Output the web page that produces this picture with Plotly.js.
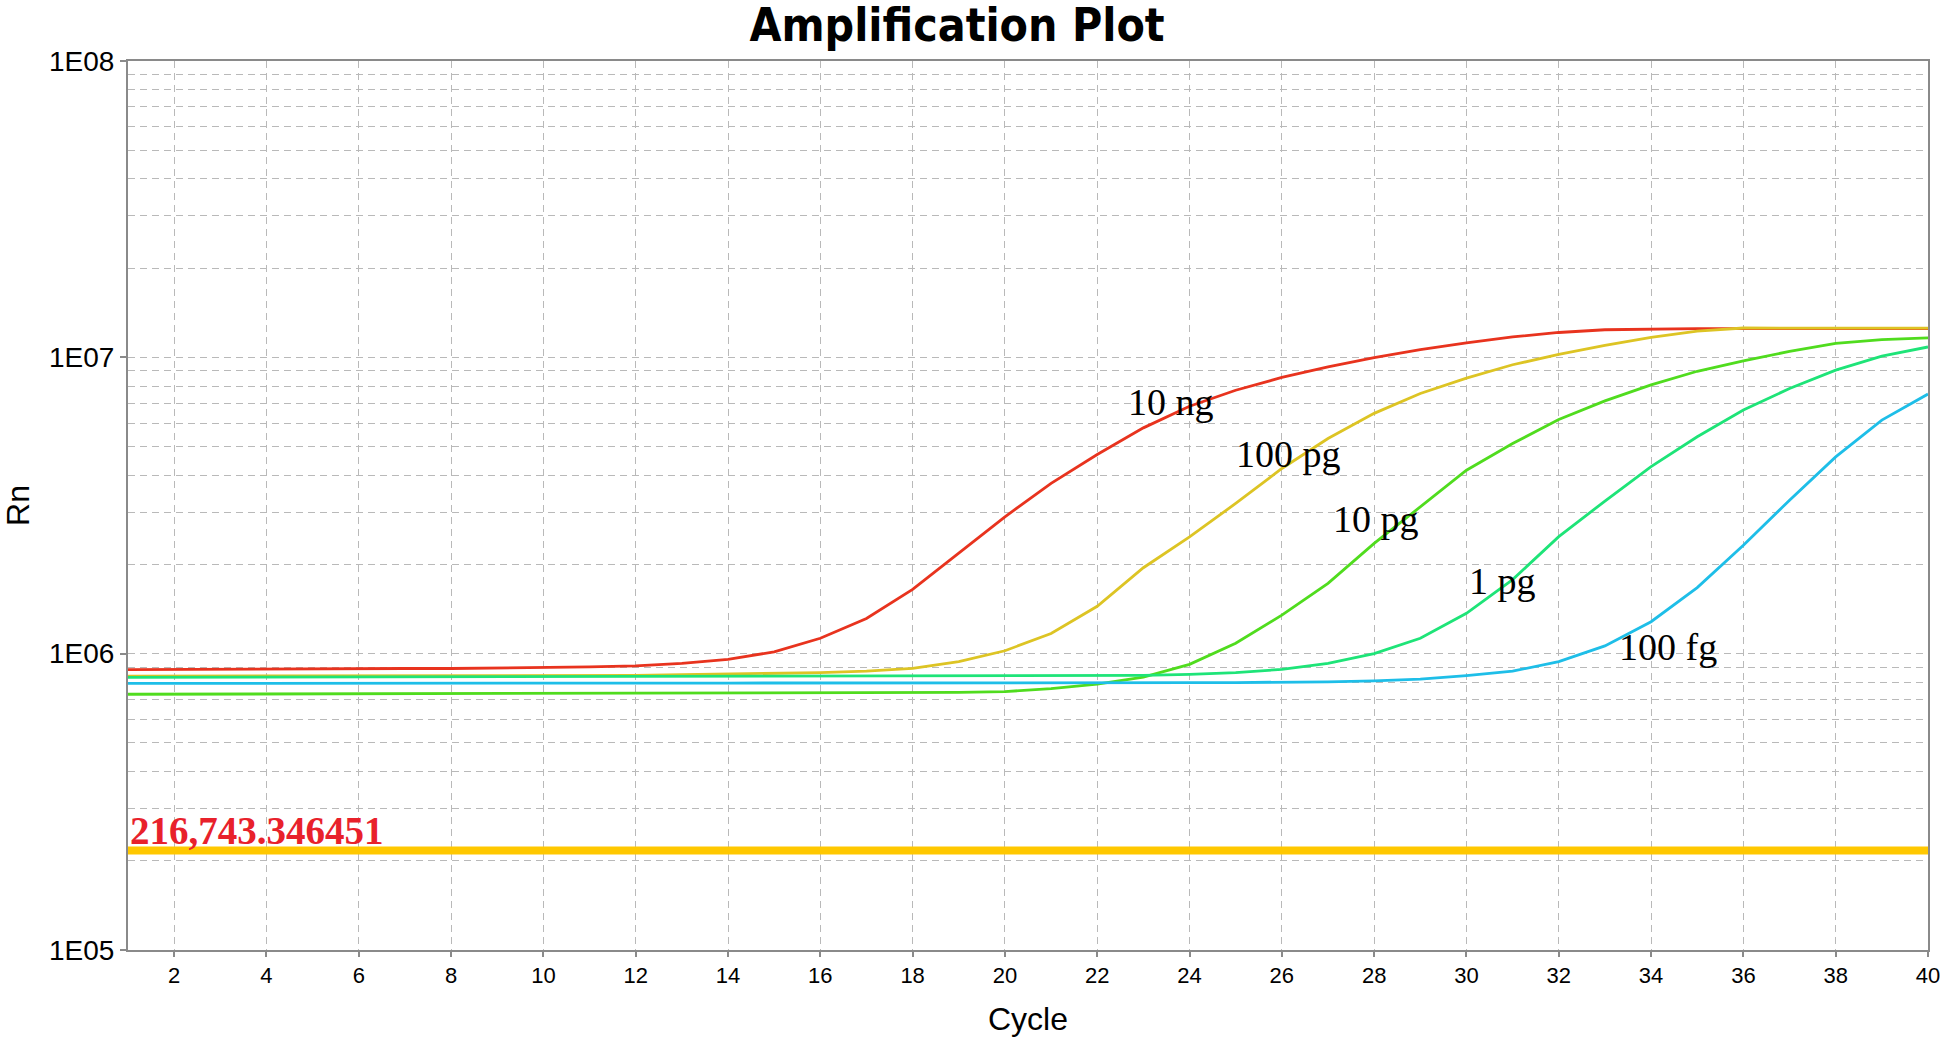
<!DOCTYPE html>
<html>
<head>
<meta charset="utf-8">
<script src="https://cdn.plot.ly/plotly-3.0.1.min.js"></script>
<style>
  html, body { margin: 0; padding: 0; background: #ffffff; }
  #chart { width: 1942px; height: 1038px; }
</style>
</head>
<body>
<div id="chart"></div>
<script>
// ---------------- DATA ----------------
const cycles = Array.from({length: 40}, (_, i) => i + 1);

const seriesNames = ["10 ng", "100 pg", "10 pg", "1 pg", "100 fg"];

const rn10ng = [883000, 885000, 887000, 887000, 889000, 889000, 891000, 891000, 893000, 895000,
  902000, 910000, 927000, 957000, 1014000, 1127000, 1315000, 1648000, 2178000, 2897000,
  3758000, 4699000, 5781000, 6839000, 7745000, 8551000, 9290000, 9977000, 10620000, 11190000,
  11720000, 12130000, 12390000, 12470000, 12500000, 12500000, 12500000, 12500000, 12500000, 12500000];

const rn100pg = [839000, 839500, 840000, 839500, 840000, 840500, 840000, 840500, 841000, 841500,
  843300, 845300, 849200, 853100, 857000, 863000, 873000, 891300, 939700, 1023000,
  1169000, 1445000, 1950000, 2477000, 3214000, 4217000, 5321000, 6471000, 7551000, 8511000,
  9441000, 10230000, 10970000, 11670000, 12250000, 12560000, 12550000, 12550000, 12540000, 12540000];

const rn10pg = [729500, 730000, 730500, 731000, 731000, 731500, 731500, 732000, 732500, 732800,
  733000, 733500, 734000, 734500, 735000, 735500, 736500, 737900, 740000, 744700,
  762100, 788900, 833700, 920400, 1084000, 1349000, 1726000, 2355000, 3133000, 4159000,
  5117000, 6166000, 7129000, 8072000, 8974000, 9727000, 10470000, 11140000, 11480000, 11640000];

const rn1pg = [832000, 832500, 833000, 833500, 833700, 834000, 834000, 834500, 835000, 835500,
  836000, 836500, 837000, 837500, 837500, 838000, 838500, 839000, 839000, 839500,
  839500, 840000, 845300, 851100, 863000, 885100, 926800, 1000000, 1127000, 1368000,
  1778000, 2483000, 3273000, 4276000, 5395000, 6637000, 7852000, 9057000, 10090000, 10840000];

const rn100fg = [794000, 794500, 794300, 795000, 795500, 795800, 795500, 795000, 794800, 795500,
  796000, 796000, 795800, 796000, 796300, 796000, 796000, 796300, 796500, 796500,
  796800, 797000, 797500, 798000, 799000, 800500, 803500, 809100, 820400, 843300,
  873000, 939700, 1062000, 1282000, 1671000, 2323000, 3296000, 4613000, 6138000, 7516000];

const threshold = 216743.346451;

const xTickVals = [2, 4, 6, 8, 10, 12, 14, 16, 18, 20, 22, 24, 26, 28, 30, 32, 34, 36, 38, 40];
const yTickVals = [1e5, 1e6, 1e7, 1e8];
const yTickText = ["1E05", "1E06", "1E07", "1E08"];

// ---------------- STYLE ----------------
const seriesData = [rn10ng, rn100pg, rn10pg, rn1pg, rn100fg];
const seriesColors = ["#E8331E", "#DDC424", "#50DC1E", "#1EE478", "#1EBEE8"];
// label anchor positions (cycle, log10 Rn)
const labelPos = [[23.6, 6.849], [26.14, 6.675], [28.05, 6.453], [30.78, 6.244], [34.37, 6.022]];

const sans = "Liberation Sans, Arial, Helvetica, sans-serif";
const serif = "Liberation Serif, Times New Roman, serif";
const gridCol = "#b9b9b9";
const axisCol = "#8a8a8a";

const traces = [];
traces.push({
  x: [cycles[0], cycles[cycles.length - 1]],
  y: [threshold, threshold],
  type: "scatter", mode: "lines",
  line: {color: "#FFC800", width: 8},
  hoverinfo: "skip", showlegend: false
});
seriesData.forEach((ys, i) => {
  traces.push({
    x: cycles, y: ys, name: seriesNames[i],
    type: "scatter", mode: "lines",
    line: {color: seriesColors[i], width: 2.8, shape: "linear"},
    showlegend: false
  });
});

const annotations = seriesNames.map((name, i) => ({
  x: labelPos[i][0], y: labelPos[i][1], xref: "x", yref: "y",
  text: name, showarrow: false, xanchor: "center", yanchor: "middle",
  font: {family: serif, size: 38, color: "#000000"}
}));
annotations.push({
  x: cycles[0], y: Math.log10(threshold), xref: "x", yref: "y",
  text: threshold.toLocaleString("en-US", {maximumFractionDigits: 6}),
  showarrow: false, xanchor: "left", yanchor: "bottom", xshift: 0, yshift: -4,
  font: {family: serif, size: 39, color: "#E8212B", weight: "bold"}
});

const layout = {
  width: 1942, height: 1038,
  paper_bgcolor: "#ffffff", plot_bgcolor: "#ffffff",
  margin: {l: 128, r: 14, t: 61, b: 88, pad: 0},
  showlegend: false,
  title: {
    text: "Amplification Plot",
    font: {family: "DejaVu Sans Condensed, DejaVu Sans, sans-serif", size: 46, color: "#000000", weight: "bold"},
    x: 0.4928, xanchor: "center", xref: "container",
    y: 0.976, yanchor: "middle", yref: "container"
  },
  xaxis: {
    range: [1, 40],
    tickmode: "array", tickvals: xTickVals,
    tickfont: {family: sans, size: 22, color: "#000000"},
    ticks: "outside", ticklen: 5, tickwidth: 2, tickcolor: axisCol,
    showline: true, linecolor: axisCol, linewidth: 2, mirror: true,
    showgrid: true, gridcolor: gridCol, gridwidth: 1, griddash: "7px,5px",
    zeroline: false,
    title: {text: "Cycle", font: {family: sans, size: 32, color: "#000000"}, standoff: 20}
  },
  yaxis: {
    type: "log", range: [5, 8],
    tickmode: "array", tickvals: yTickVals, ticktext: yTickText,
    tickfont: {family: sans, size: 28, color: "#000000"},
    ticks: "outside", ticklen: 6, tickwidth: 2, tickcolor: axisCol,
    showline: true, linecolor: axisCol, linewidth: 2, mirror: true,
    showgrid: true, gridcolor: gridCol, gridwidth: 1, griddash: "7px,5px",
    zeroline: false,
    minor: {dtick: "D1", showgrid: true, gridcolor: gridCol, gridwidth: 1, griddash: "7px,5px", ticks: ""},
    title: {text: "Rn", font: {family: sans, size: 32, color: "#000000"}, standoff: 12}
  },
  annotations: annotations
};

Plotly.newPlot("chart", traces, layout, {displayModeBar: false, staticPlot: true});
</script>
</body>
</html>
